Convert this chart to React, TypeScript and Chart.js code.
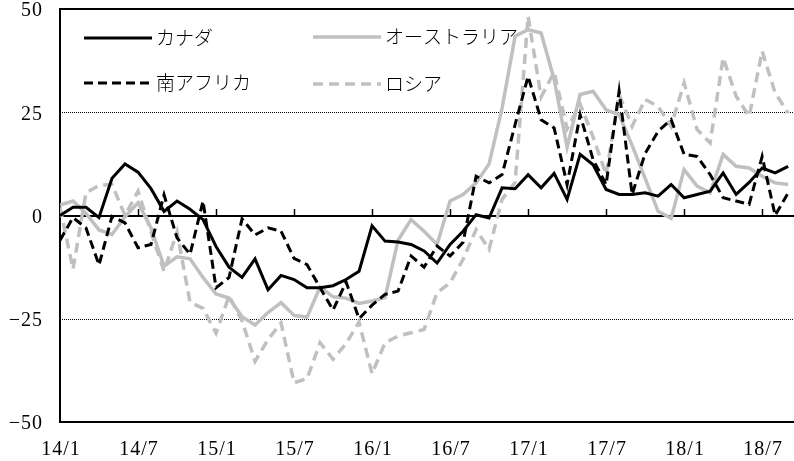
import React, { useEffect, useRef } from 'react';
import { Chart, registerables } from 'chart.js';

Chart.register(...registerables);

const months = [
  '14/1', '14/2', '14/3', '14/4', '14/5', '14/6', '14/7', '14/8', '14/9', '14/10', '14/11', '14/12',
  '15/1', '15/2', '15/3', '15/4', '15/5', '15/6', '15/7', '15/8', '15/9', '15/10', '15/11', '15/12',
  '16/1', '16/2', '16/3', '16/4', '16/5', '16/6', '16/7', '16/8', '16/9', '16/10', '16/11', '16/12',
  '17/1', '17/2', '17/3', '17/4', '17/5', '17/6', '17/7', '17/8', '17/9', '17/10', '17/11', '17/12',
  '18/1', '18/2', '18/3', '18/4', '18/5', '18/6', '18/7', '18/8', '18/9',
];
const tickMonths = ['14/1', '14/7', '15/1', '15/7', '16/1', '16/7', '17/1', '17/7', '18/1', '18/7'];
const yTicks = [-50, -25, 0, 25, 50];
const dottedLevels = [25, -25];
const solidLevels = [50, 0, -50];
const seriesNames = ['カナダ', 'オーストラリア', '南アフリカ', 'ロシア'];

const canada = [0, 2, 2, -0.5, 9, 12.5, 10.5, 6.5, 1, 3.5, 1.5, -1, -7.5, -12.5, -15, -10.5, -18, -14.5, -15.5, -17.5, -17.5, -17, -15.5, -13.5, -2.5, -6.2, -6.4, -7, -8.6, -11.5, -7, -3.8, 0.2, -0.6, 6.7, 6.5, 9.9, 6.7, 10.2, 3.9, 14.8, 12.3, 6.3, 5.1, 5.1, 5.5, 4.7, 7.5, 4.3, 5.1, 5.9, 10.3, 5.1, 8, 11.5, 10.3, 11.9];
const australia = [2.5, 3.5, 0.5, -3.5, -4.6, -0.3, 3.1, -3, -12.3, -10, -10.5, -15, -19, -20, -24.5, -26.5, -23.5, -21.1, -24.2, -24.6, -17.3, -19.7, -20, -21.3, -20.7, -19.9, -6, -1, -3.8, -7, 3.5, 5.1, 7.9, 12.5, 26, 43.4, 45, 44.2, 33, 16.5, 29.3, 30.1, 25.6, 24.4, 17, 9, 1, -0.7, 11.1, 7.1, 5.5, 14.8, 11.9, 11.5, 9.5, 7.9, 7.5];
const southAfrica = [-6, -0.5, -3, -12, -0.2, -1.8, -7.8, -7, 5, -5.4, -9.4, 3.5, -17.5, -15, -0.8, -4.7, -3, -3.8, -10.4, -11.9, -17.5, -22.9, -16.1, -25, -21.7, -19.1, -18.3, -9.8, -12.5, -7.4, -9.8, -6.5, 9.5, 7.9, 9.9, 22, 33.7, 23.2, 21.2, 7.5, 24.4, 13.5, 7.5, 30.1, 5.1, 15, 20.4, 23.2, 14.8, 14.3, 9.9, 4.3, 3.5, 2.7, 14.3, 0, 5.5];
const russia = [2, -13, 5.5, 7.3, 7.5, 0, 5.9, -4, -13.5, -4, -21, -22.5, -28.5, -19.5, -25.5, -35.3, -30, -26, -40.5, -39.5, -30.8, -34.8, -31, -25.8, -38.3, -30.8, -29.2, -28.4, -27.6, -18.7, -16.3, -10.6, -3.4, -8.2, 3.9, 8, 48.2, 28.7, 34.7, 21, 27, 19, 9.9, 29.3, 21.6, 28.1, 26.4, 21.6, 32.1, 20.8, 17.6, 38.2, 28.9, 24, 39.8, 29.7, 24.8];

const GRAY = '#c0c0c0';
const SERIF = '"Liberation Serif", "DejaVu Serif", serif';
const JP = '"Noto Sans CJK JP", sans-serif';

const toPoints = (vals: number[]) => vals.map((v, i) => ({ x: i, y: v }));

function hLine(ctx: CanvasRenderingContext2D, x1: number, x2: number, y: number) {
  ctx.beginPath();
  ctx.moveTo(x1, y);
  ctx.lineTo(x2, y);
  ctx.stroke();
}

const framePlugin = {
  id: 'frame',
  beforeDatasetsDraw(chart: any) {
    const ctx: CanvasRenderingContext2D = chart.ctx;
    const a = chart.chartArea;
    const x = chart.scales.x;
    const y = chart.scales.y;

    ctx.save();
    ctx.strokeStyle = '#000000';
    ctx.lineWidth = 1;
    ctx.setLineDash([1, 1]);
    dottedLevels.forEach((v) => hLine(ctx, a.left, a.right, Math.round(y.getPixelForValue(v)) + 0.5));
    ctx.restore();

    ctx.save();
    ctx.strokeStyle = '#000000';
    ctx.lineWidth = 2;
    ctx.setLineDash([]);
    solidLevels.forEach((v) => hLine(ctx, a.left - 1, a.right, Math.round(y.getPixelForValue(v))));
    ctx.beginPath();
    ctx.moveTo(a.left, a.top - 1);
    ctx.lineTo(a.left, a.bottom + 1);
    ctx.stroke();
    ctx.restore();

    ctx.save();
    ctx.strokeStyle = '#000000';
    ctx.lineWidth = 1.5;
    const y0 = Math.round(y.getPixelForValue(0));
    tickMonths.forEach((lbl) => {
      const px = Math.round(x.getPixelForValue(months.indexOf(lbl))) + 0.5;
      ctx.beginPath();
      ctx.moveTo(px, y0);
      ctx.lineTo(px, y0 - 7);
      ctx.stroke();
    });
    ctx.restore();

    // tick labels
    ctx.save();
    ctx.fillStyle = '#000000';
    ctx.font = `20px ${SERIF}`;
    (ctx as any).letterSpacing = '1px';
    ctx.textBaseline = 'middle';
    ctx.textAlign = 'right';
    yTicks.forEach((v) => {
      const txt = v < 0 ? '\u2212' + Math.abs(v) : String(v);
      ctx.fillText(txt, a.left - 17, y.getPixelForValue(v) + 2);
    });
    ctx.textAlign = 'center';
    tickMonths.forEach((lbl) => {
      ctx.fillText(lbl, x.getPixelForValue(months.indexOf(lbl)) + 1, a.bottom + 28);
    });
    ctx.restore();
  },
};

const legendPlugin = {
  id: 'insideLegend',
  afterDatasetsDraw(chart: any) {
    const ctx: CanvasRenderingContext2D = chart.ctx;
    const a = chart.chartArea;
    const slots = [
      { ds: 0, dx: 24, dy: 29 },
      { ds: 2, dx: 24, dy: 74 },
      { ds: 1, dx: 253, dy: 28 },
      { ds: 3, dx: 253, dy: 75 },
    ];
    ctx.save();
    slots.forEach((s) => {
      const ds = chart.data.datasets[s.ds];
      const x0 = a.left + s.dx;
      const yy = a.top + s.dy;
      ctx.strokeStyle = ds.borderColor;
      ctx.lineWidth = ds.borderWidth;
      ctx.setLineDash(ds.borderDash || []);
      ctx.beginPath();
      ctx.moveTo(x0, yy);
      ctx.lineTo(x0 + 68, yy);
      ctx.stroke();
      ctx.setLineDash([]);
      ctx.fillStyle = '#000';
      ctx.font = `300 19px ${JP}`;
      ctx.textBaseline = 'middle';
      ctx.textAlign = 'left';
      ctx.fillText(ds.label, x0 + 72, yy);
    });
    ctx.restore();
  },
};

export default function App() {
  const ref = useRef<HTMLCanvasElement | null>(null);
  useEffect(() => {
    document.body.style.margin = '0';
    const canvas = ref.current;
    if (!canvas) return;
    const chart = new Chart(canvas, {
      type: 'line',
      data: {
        datasets: [
          { label: seriesNames[0], data: toPoints(canada), borderColor: '#000', borderWidth: 3, pointRadius: 0, order: 0 },
          { label: seriesNames[1], data: toPoints(australia), borderColor: GRAY, borderWidth: 3.5, pointRadius: 0, order: 2 },
          { label: seriesNames[2], data: toPoints(southAfrica), borderColor: '#000', borderWidth: 3, borderDash: [9, 5], pointRadius: 0, order: 1 },
          { label: seriesNames[3], data: toPoints(russia), borderColor: GRAY, borderWidth: 3.5, borderDash: [10, 6], pointRadius: 0, order: 3 },
        ] as any,
      },
      options: {
        animation: false,
        responsive: false,
        maintainAspectRatio: false,
        layout: { padding: { top: 9, left: 60, right: 0, bottom: 39 } },
        plugins: { legend: { display: false }, tooltip: { enabled: false } },
        scales: {
          x: { type: 'linear', display: false, min: 0, max: 56.45 },
          y: { type: 'linear', display: false, min: -50, max: 50 },
        },
      } as any,
      plugins: [framePlugin, legendPlugin],
    });
    return () => chart.destroy();
  }, []);
  return (
    <div style={{ width: 794, height: 461 }}>
      <canvas ref={ref} width={794} height={461} />
    </div>
  );
}
